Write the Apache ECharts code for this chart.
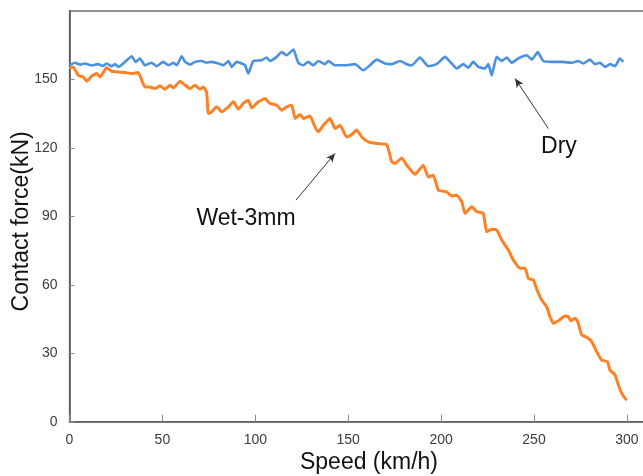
<!DOCTYPE html>
<html>
<head>
<meta charset="utf-8">
<script src="https://cdn.jsdelivr.net/npm/echarts@6/dist/echarts.min.js"></script>
<style>
  html, body { margin: 0; padding: 0; background: #fff; }
  #chart { width: 643px; height: 476px; }
</style>
</head>
<body>
<div id="chart"></div>
<script>
// Contact force versus speed, dry rail and 3 mm water film
const drySpeed = [0, 3.0, 5.7, 8.3, 11.9, 15.3, 18.0, 20.0, 22.7, 24.5, 26.3, 29.9, 33.5, 35.6, 37.9, 40.6, 44.2, 46.9,
  50.5, 53.2, 55.9, 57.7, 60.4, 62.2, 64.9, 67.5, 71.2, 73.8, 76.5, 80.1, 82.8, 85.5, 87.3, 90.0, 92.7, 94.5, 96.2,
  98.9, 103.4, 106.1, 107.9, 111.5, 114.2, 116.9, 120.5, 123.1, 125.8, 128.5, 131.2, 133.9, 137.5, 139.3, 142.9,
  148.3, 153.7, 158.1, 161.7, 165.3, 169.8, 173.4, 177.9, 181.5, 184.2, 188.6, 193.1, 197.6, 202.1, 205.7, 208.4,
  211.9, 214.6, 217.3, 220.0, 223.6, 225.4, 227.2, 229.9, 232.6, 235.3, 238.0, 241.5, 246.1, 248.8, 252.0, 255.0,
  259.5, 264.9, 270.3, 273.8, 276.5, 280.1, 282.8, 285.5, 288.2, 290.9, 293.6, 296.2, 298.1];
const dryForce = [156.2, 157.3, 156.5, 157.0, 156.2, 156.7, 155.9, 157.0, 155.8, 156.7, 155.5, 157.7, 160.2, 157.7, 159.2,
  156.2, 157.3, 155.8, 157.7, 156.2, 157.3, 156.2, 160.2, 157.7, 156.5, 157.7, 158.1, 157.3, 157.7, 157.0, 156.2,
  158.1, 155.5, 157.7, 157.0, 156.2, 152.6, 158.1, 158.4, 159.6, 158.1, 159.9, 162.0, 160.6, 163.1, 157.3, 156.2,
  157.7, 156.2, 158.1, 156.7, 158.1, 156.2, 156.2, 156.7, 154.0, 156.2, 158.7, 157.0, 156.7, 158.1, 156.7, 156.2,
  159.6, 155.8, 156.7, 159.9, 157.0, 154.8, 156.7, 155.2, 157.7, 155.5, 154.8, 156.7, 151.8, 159.9, 158.1, 159.6,
  157.3, 159.2, 160.6, 158.7, 162.0, 158.1, 157.7, 157.7, 157.3, 158.1, 157.0, 158.7, 156.7, 157.3, 155.5, 156.7,
  155.8, 159.2, 157.7];

const wetSpeed = [0, 2.0, 4.7, 7.4, 9.3, 11.9, 14.6, 16.4, 20.0, 22.7, 26.3, 29.9, 33.5, 37.0, 38.9, 40.6, 43.3, 46.0,
  48.7, 51.4, 54.1, 55.9, 59.5, 62.2, 64.9, 67.5, 70.2, 72.0, 73.8, 74.7, 76.5, 79.2, 81.9, 85.5, 88.2, 90.9, 93.5,
  96.2, 98.1, 101.6, 105.2, 107.9, 111.5, 114.2, 116.9, 119.6, 121.4, 124.1, 125.8, 129.4, 132.1, 133.9, 136.6,
  140.2, 142.9, 145.6, 149.2, 151.9, 154.6, 157.3, 160.8, 165.3, 170.7, 173.4, 175.2, 178.8, 181.5, 186.0, 190.4,
  193.1, 195.8, 198.5, 203.0, 205.7, 208.4, 211.1, 212.9, 216.5, 219.2, 222.7, 224.5, 227.2, 229.9, 232.6, 236.2,
  238.9, 242.5, 245.2, 246.9, 249.6, 251.5, 254.1, 256.8, 258.6, 260.4, 264.0, 266.7, 268.5, 269.8, 272.1, 273.8,
  275.7, 278.4, 281.1, 283.7, 286.4, 289.5, 290.9, 293.6, 295.4, 297.2, 299.0, 300.0];
const wetForce = [154.8, 155.5, 151.8, 151.1, 149.2, 151.5, 152.6, 151.1, 155.1, 153.6, 153.3, 153.0, 152.6, 153.0,
  149.6, 146.7, 146.7, 146.0, 147.2, 145.7, 147.5, 146.3, 149.2, 147.5, 146.0, 147.5, 145.7, 146.7, 144.3, 135.1,
  135.8, 138.0, 135.8, 138.0, 140.2, 137.0, 139.5, 140.9, 137.5, 140.2, 141.6, 139.5, 138.7, 136.5, 138.0, 138.7,
  132.9, 134.6, 132.9, 134.0, 129.2, 127.0, 129.9, 132.9, 128.5, 129.9, 124.8, 125.9, 127.8, 124.8, 122.6, 121.9,
  121.5, 113.9, 113.2, 115.6, 112.4, 108.4, 112.4, 107.3, 108.0, 101.5, 100.7, 98.9, 99.3, 96.4, 91.3, 94.2, 92.0,
  91.3, 83.2, 84.3, 84.0, 79.6, 75.2, 70.8, 67.2, 67.2, 62.8, 62.1, 58.0, 53.3, 50.4, 46.0, 43.1, 44.8, 46.3, 46.0,
  44.2, 45.3, 43.1, 38.0, 37.0, 35.0, 30.7, 27.0, 26.3, 22.6, 20.5, 16.1, 12.4, 10.2, 9.5];

const xTicks = [0, 50, 100, 150, 200, 250, 300];
const yTicks = [0, 30, 60, 90, 120, 150];

// callouts: label text, label position, arrow tail and head (speed, force)
const callouts = [
  { name: 'Dry', at: [263.4, 120.6], from: [257.7, 128.5], to: [239.8, 150.4] },
  { name: 'Wet-3mm', at: [95.0, 88.8], from: [121.9, 97.1], to: [142.9, 117.6] }
];

const font = "'Liberation Sans', Arial, sans-serif";
const pairs = (xs, ys) => xs.map((x, i) => [x, ys[i]]);

const chart = echarts.init(document.getElementById('chart'), null, { renderer: 'canvas' });
chart.setOption({
  animation: false,
  backgroundColor: '#ffffff',
  grid: {
    left: 69.5, right: -2.5, top: 11, bottom: 54.3,
    outerBoundsMode: 'none', containLabel: false,
    show: true, borderColor: '#6e6e6e', borderWidth: 1.3, backgroundColor: 'transparent'
  },
  xAxis: {
    type: 'value', min: 0, max: 310, interval: 50,
    name: 'Speed (km/h)', nameLocation: 'middle', nameGap: 29,
    nameTextStyle: { fontFamily: font, fontSize: 23, color: '#111', padding: [0, 0, 0, 23] },
    axisLine: { show: true, lineStyle: { color: '#595959', width: 1.6 } },
    axisTick: { show: true, inside: true, length: 7, lineStyle: { color: '#8a8a8a', width: 1 },
      customValues: xTicks },
    axisLabel: { fontFamily: font, fontSize: 14, color: '#3c3c3c', margin: 11,
      customValues: xTicks, formatter: v => String(v) },
    splitLine: { show: false }
  },
  yAxis: {
    type: 'value', min: 0, max: 180, interval: 30,
    name: 'Contact force(kN)', nameLocation: 'middle', nameGap: 36, nameMoveOverlap: false,
    nameTextStyle: { fontFamily: font, fontSize: 23, color: '#111', padding: [0, 10, 0, 0] },
    axisLine: { show: true, lineStyle: { color: '#595959', width: 1.6 } },
    axisTick: { show: true, inside: true, length: 5, lineStyle: { color: '#8a8a8a', width: 1 },
      customValues: yTicks },
    axisLabel: { fontFamily: font, fontSize: 14, color: '#3c3c3c', margin: 12,
      customValues: yTicks, formatter: v => String(v) },
    splitLine: { show: false }
  },
  series: [
    {
      name: 'Dry', type: 'line', data: pairs(drySpeed, dryForce),
      showSymbol: false, smooth: 0.15,
      lineStyle: { color: '#4a92df', width: 2.6 }, itemStyle: { color: '#4a92df' }
    },
    {
      name: 'Wet-3mm', type: 'line', data: pairs(wetSpeed, wetForce),
      showSymbol: false, smooth: 0.15,
      lineStyle: { color: '#ff8126', width: 3 }, itemStyle: { color: '#ff8126' },
      markLine: {
        silent: true, symbol: ['none', 'arrow'], symbolSize: [6, 9],
        lineStyle: { color: '#333', width: 1, type: 'solid' },
        itemStyle: { color: '#111' },
        label: { show: false },
        data: callouts.map(c => [{ coord: c.from }, { coord: c.to }])
      },
      markPoint: {
        silent: true, symbol: 'circle', symbolSize: 1,
        itemStyle: { color: 'rgba(0,0,0,0)' },
        label: { show: true, position: 'inside', fontFamily: font, fontSize: 23, color: '#111',
          formatter: p => p.name },
        data: callouts.map(c => ({ name: c.name, coord: c.at }))
      }
    }
  ]
});
</script>
</body>
</html>
